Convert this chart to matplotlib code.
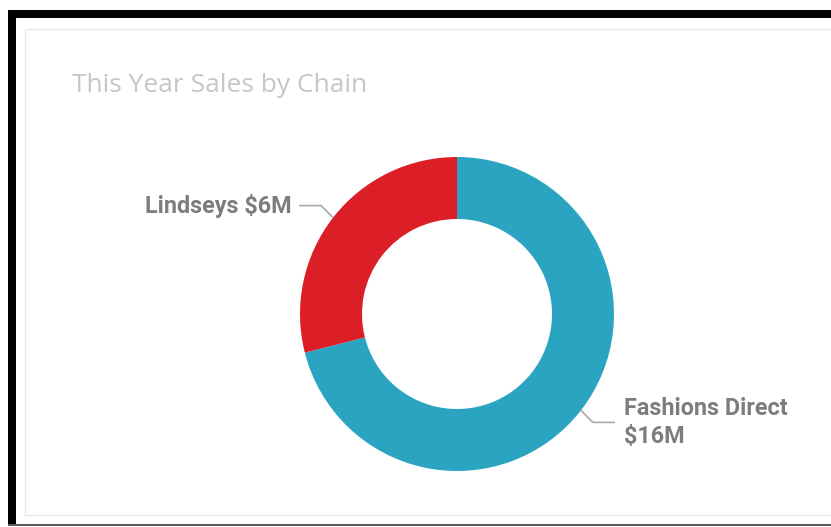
import numpy as np
import matplotlib.pyplot as plt
from matplotlib.patches import Rectangle

# sales by chain, $M
chains = ['Fashions Direct', 'Lindseys']
sales = [15.7, 6.4]
colors = ['#2ba4c2', '#dc1f27']
title = 'This Year Sales by Chain'

W, H = 831, 527
fig = plt.figure(figsize=(W / 100, H / 100), dpi=100)
ax = fig.add_axes([0, 0, 1, 1])
ax.set_xlim(0, W)
ax.set_ylim(0, H)
ax.axis('off')

def py(y):
    # pixel row (from top) -> data y
    return H - y

# outer frame: heavy black top/left, thin grey bottom
ax.add_patch(Rectangle((8, py(18)), W, 8, color='black', lw=0))
ax.add_patch(Rectangle((8, py(526)), 8, 516, color='black', lw=0))
ax.add_patch(Rectangle((8, py(526)), W, 2, color='#5a5a5a', lw=0))
# visual card border
ax.add_patch(Rectangle((25, py(515)), W, 486, fill=False, ec='#e8e8e8', lw=1))

ax.text(72, py(86), title, fontsize=19, color='#c6c6c6', family='Open Sans',
        va='center', ha='left')

cx, cy, r = 457, py(314), 157
wedges, _ = ax.pie(sales, colors=colors, startangle=90, counterclock=False,
                   center=(cx, cy), radius=r, frame=True,
                   wedgeprops=dict(width=62, linewidth=0))
ax.set_xlim(0, W)
ax.set_ylim(0, H)
ax.set_aspect('equal')
ax.axis('off')

lab_kw = dict(fontsize=16.8, color='#7d7d7d', family='Roboto', fontweight='bold')
for w, name, v in zip(wedges, chains, sales):
    mid = np.deg2rad((w.theta1 + w.theta2) / 2)
    x0, y0 = cx + r * np.cos(mid), cy + r * np.sin(mid)
    side = 1 if np.cos(mid) > 0 else -1
    x1 = x0 + side * 12
    y1 = y0 + np.sign(np.sin(mid)) * 12
    x2 = x1 + side * 22
    ax.plot([x0, x1, x2], [y0, y1, y1], color='#aaaaaa', lw=1.2, solid_capstyle='butt')
    if side < 0:
        ax.text(x2 - 7, y1, f'{name} ${v:.0f}M', ha='right', va='center', **lab_kw)
    else:
        ax.text(x2 + 9, y1, f'{name}\n${v:.0f}M', ha='left', va='center',
                linespacing=1.3, **lab_kw)

fig.savefig('out.png', dpi=100, facecolor='white')
